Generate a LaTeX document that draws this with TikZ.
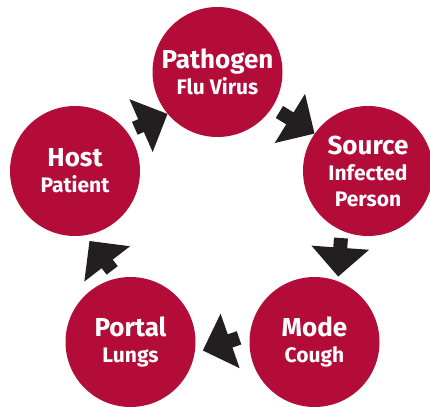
\documentclass[tikz,border=0pt]{standalone}
\usepackage{fontspec}
\setmainfont{Fira Sans}
\usepackage{tikz}
\usetikzlibrary{arrows.meta}

\definecolor{crimson}{RGB}{179,12,57}
\definecolor{inkblack}{RGB}{35,31,32}
\newcommand{\stagename}[1]{{\fontsize{26}{26}\selectfont #1}}

\begin{document}
\begin{tikzpicture}
  [ x=1pt, y=1pt,
    stage/.style={circle, fill=crimson, minimum size=130pt, inner sep=0pt,
      text=white, align=center, font=\bfseries\fontsize{21}{26}\selectfont},
    flow/.style={draw=inkblack, line width=14pt,
      -{Triangle[width=56pt,length=29pt]}}
  ]
  \useasboundingbox (0,0) rectangle (430,-406);
  \clip (0,0) rectangle (430,-406);

  \node (pathogen) at (217.5, -72) [stage] {\stagename{Pathogen}\\Flu Virus};
  \node (source)   at (368,  -171) [stage] {\stagename{Source}\\Infected\\Person};
  \node (mode)     at (314.5,-342) [stage] {\stagename{Mode}\\Cough};
  \node (portal)   at (130.5,-342) [stage] {\stagename{Portal}\\Lungs};
  \node (host)     at (75,   -171) [stage] {\stagename{Host}\\Patient};

  \draw [flow, shorten <=8.5pt] (host.37.6) -- (pathogen.220);
  \draw [flow, shorten <=8.5pt] (pathogen.327.5) -- (source.145);
  \draw [flow, shorten <=7.5pt, shorten >=4.5pt] (source.246.4) -- (mode.69.3);
  \draw [flow, shorten <=11.4pt, shorten >=8.5pt] (mode.173) -- (portal.350.6);
  \draw [flow, shorten <=9.6pt, shorten >=7pt] (portal.101.9) -- (host.279.6);
\end{tikzpicture}
\end{document}
